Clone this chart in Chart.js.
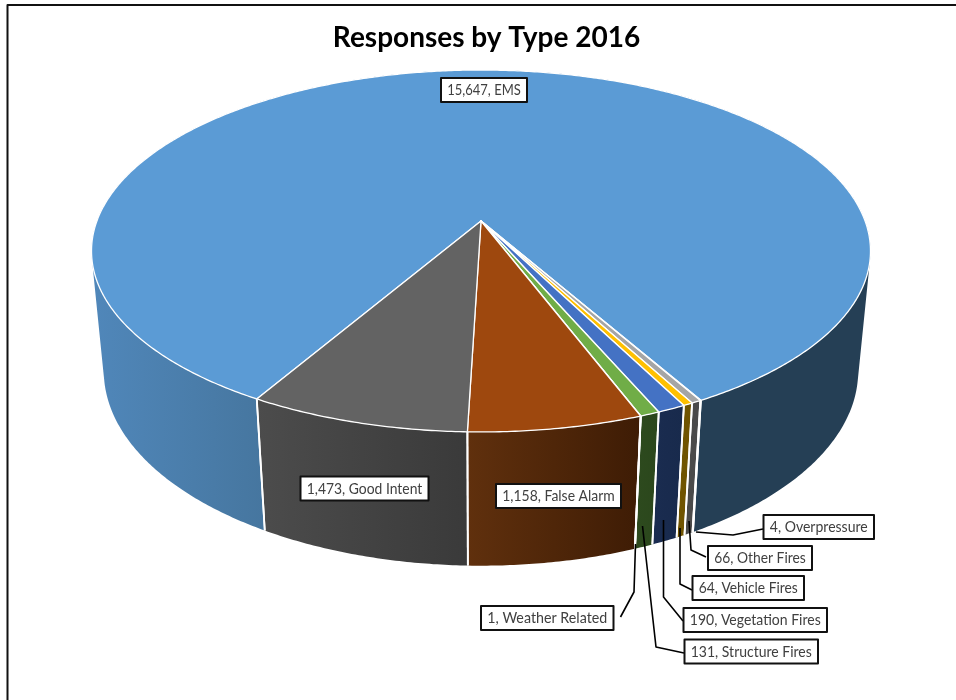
<!DOCTYPE html>
<html>
<head>
<meta charset="utf-8">
<style>html,body{margin:0;padding:0;background:#fff;overflow:hidden}canvas{display:block}</style>
<script src="https://cdn.jsdelivr.net/npm/chart.js@4/dist/chart.umd.min.js"></script>
</head>
<body>
<canvas id="c" width="956" height="700"></canvas>
<script>
const chartTitle = 'Responses by Type 2016';
const categories = ['EMS','Overpressure','Other Fires','Vehicle Fires','Vegetation Fires','Structure Fires','Weather Related','False Alarm','Good Intent'];
const responses = [15647,4,66,64,190,131,1,1158,1473];
const topColors = ['#5B9BD5','#ED7D31','#A5A5A5','#FFC000','#4472C4','#70AD47','#255E91','#9E480E','#636363'];
const wallShades = [
  [[0,'#5087BA'],[0.222,'#46769F'],[0.775,'#253F55'],[1,'#253F55']],
  [[0,'#6B3410'],[1,'#6B3410']],
  [[0,'#4A4A4A'],[1,'#4A4A4A']],
  [[0,'#705400'],[1,'#705400']],
  [[0,'#1A2C50'],[1,'#182A4C']],
  [[0,'#2D4A1E'],[1,'#2B471C']],
  [[0,'#16385A'],[1,'#16385A']],
  [[0,'#60300D'],[1,'#3E1C05']],
  [[0,'#4C4C4C'],[1,'#3A3A3A']]
];
const labelBoxes = {
  'EMS':[441,78,527,102],
  'Good Intent':[300.5,476.5,428.5,500.5],
  'False Alarm':[496,484,621,508],
  'Overpressure':[763.5,515,874,539],
  'Other Fires':[708,546,812,570],
  'Vehicle Fires':[692.5,576,804,600],
  'Vegetation Fires':[683.5,608,827,632],
  'Structure Fires':[684.5,639.5,818,663.5],
  'Weather Related':[481,606,613.5,630]
};
const leaderLines = [
  [[696,532],[733,535],[763,529]],
  [[689,521],[691,550],[706,557]],
  [[680,528],[680,584],[692,590]],
  [[663.5,520],[663.5,597],[683,621]],
  [[642.5,526],[656,647],[684,653]],
  [[635.5,544],[634,592],[620.5,617]]
];
const frame = {left:7.5, top:5, right:960, bottom:704};
const view = {cx:481, cy:221, ax:384.1, ay:176, k:-0.1657, depthW:0.0317, depthY:122.5};

function project(theta, h){
  const u = Math.cos(theta), v = Math.sin(theta);
  const w = 1 + view.k*v + view.depthW*h;
  return [view.cx + view.ax*u/w, view.cy + (view.ay*v + view.depthY*h)/w];
}
function sampleAngles(a, b){
  const n = Math.max(2, Math.ceil((b-a)/(Math.PI/360)));
  const out = [];
  for(let i=0;i<=n;i++) out.push(a+(b-a)*i/n);
  return out;
}
function wallPath(ctx, angles){
  ctx.beginPath();
  for(let i=0;i<angles.length-1;i++){
    let q=[project(angles[i],0), project(angles[i+1],0), project(angles[i+1],1), project(angles[i],1)];
    let area=0;
    for(let j=0;j<4;j++){const a=q[j],b=q[(j+1)%4]; area+=a[0]*b[1]-b[0]*a[1];}
    if(area<0) q=q.reverse();
    ctx.moveTo(q[0][0],q[0][1]);
    for(let j=1;j<4;j++) ctx.lineTo(q[j][0],q[j][1]);
    ctx.closePath();
  }
}
const pie3d = {
  id:'pie3d',
  beforeDatasetsDraw(chart){
    const ctx = chart.ctx, arcs = chart.getDatasetMeta(0).data;
    ctx.save();
    arcs.forEach((arc,i)=>{
      const angles = sampleAngles(arc.startAngle, arc.endAngle);
      const xs = angles.map(t=>project(t,1)[0]).concat(angles.map(t=>project(t,0)[0]));
      const x0 = Math.min(...xs), x1 = Math.max(...xs);
      const g = ctx.createLinearGradient(x0,0,Math.max(x1,x0+1),0);
      wallShades[i].forEach(s=>g.addColorStop(s[0],s[1]));
      wallPath(ctx, angles);
      ctx.fillStyle = g;
      ctx.fill('nonzero');
    });
    ctx.strokeStyle='#fff'; ctx.lineWidth=1.8;
    arcs.forEach(arc=>{
      [arc.startAngle, arc.endAngle].forEach(t=>{
        if(Math.sin(t)<0.5) return;
        const p=project(t,0), q=project(t,1);
        ctx.beginPath(); ctx.moveTo(p[0],p[1]); ctx.lineTo(q[0],q[1]); ctx.stroke();
      });
    });
    ctx.lineJoin='round'; ctx.lineWidth=1.3;
    arcs.forEach((arc,i)=>{
      ctx.beginPath();
      ctx.moveTo(view.cx, view.cy);
      sampleAngles(arc.startAngle, arc.endAngle).forEach(t=>{const p=project(t,0); ctx.lineTo(p[0],p[1]);});
      ctx.closePath();
      ctx.fillStyle = topColors[i];
      ctx.fill();
      ctx.stroke();
    });
    ctx.restore();
    return false;
  },
  afterDraw(chart){
    const ctx = chart.ctx;
    ctx.save();
    ctx.strokeStyle='#000'; ctx.lineWidth=1.6; ctx.lineJoin='round';
    leaderLines.forEach(line=>{
      ctx.beginPath();
      line.forEach((p,i)=> i? ctx.lineTo(p[0],p[1]) : ctx.moveTo(p[0],p[1]));
      ctx.stroke();
    });
    ctx.font='15px Lato';
    ctx.textAlign='center'; ctx.textBaseline='middle';
    categories.forEach((cat,i)=>{
      const b = labelBoxes[cat];
      ctx.fillStyle='#fff';
      ctx.fillRect(b[0],b[1],b[2]-b[0],b[3]-b[1]);
      ctx.strokeStyle='#111'; ctx.lineWidth=2;
      ctx.strokeRect(b[0],b[1],b[2]-b[0],b[3]-b[1]);
      ctx.fillStyle='#404040';
      ctx.fillText(responses[i].toLocaleString('en-US')+', '+cat,(b[0]+b[2])/2,(b[1]+b[3])/2+0.5,b[2]-b[0]-12.5);
    });
    ctx.strokeStyle='#111'; ctx.lineWidth=2;
    ctx.strokeRect(frame.left,frame.top,frame.right-frame.left,frame.bottom-frame.top);
    ctx.restore();
  }
};
new Chart(document.getElementById('c'),{
  type:'pie',
  data:{labels:categories,datasets:[{data:responses,backgroundColor:topColors,borderColor:'#fff'}]},
  options:{
    responsive:false,animation:false,
    rotation:210,
    layout:{padding:{left:17,top:0,right:0,bottom:0}},
    plugins:{
      legend:{display:false},tooltip:{enabled:false},
      title:{display:true,text:chartTitle,color:'#000',font:{family:'Lato',size:28,weight:'bold'},padding:{top:21,bottom:10}}
    }
  },
  plugins:[pie3d]
});
</script>
</body>
</html>
